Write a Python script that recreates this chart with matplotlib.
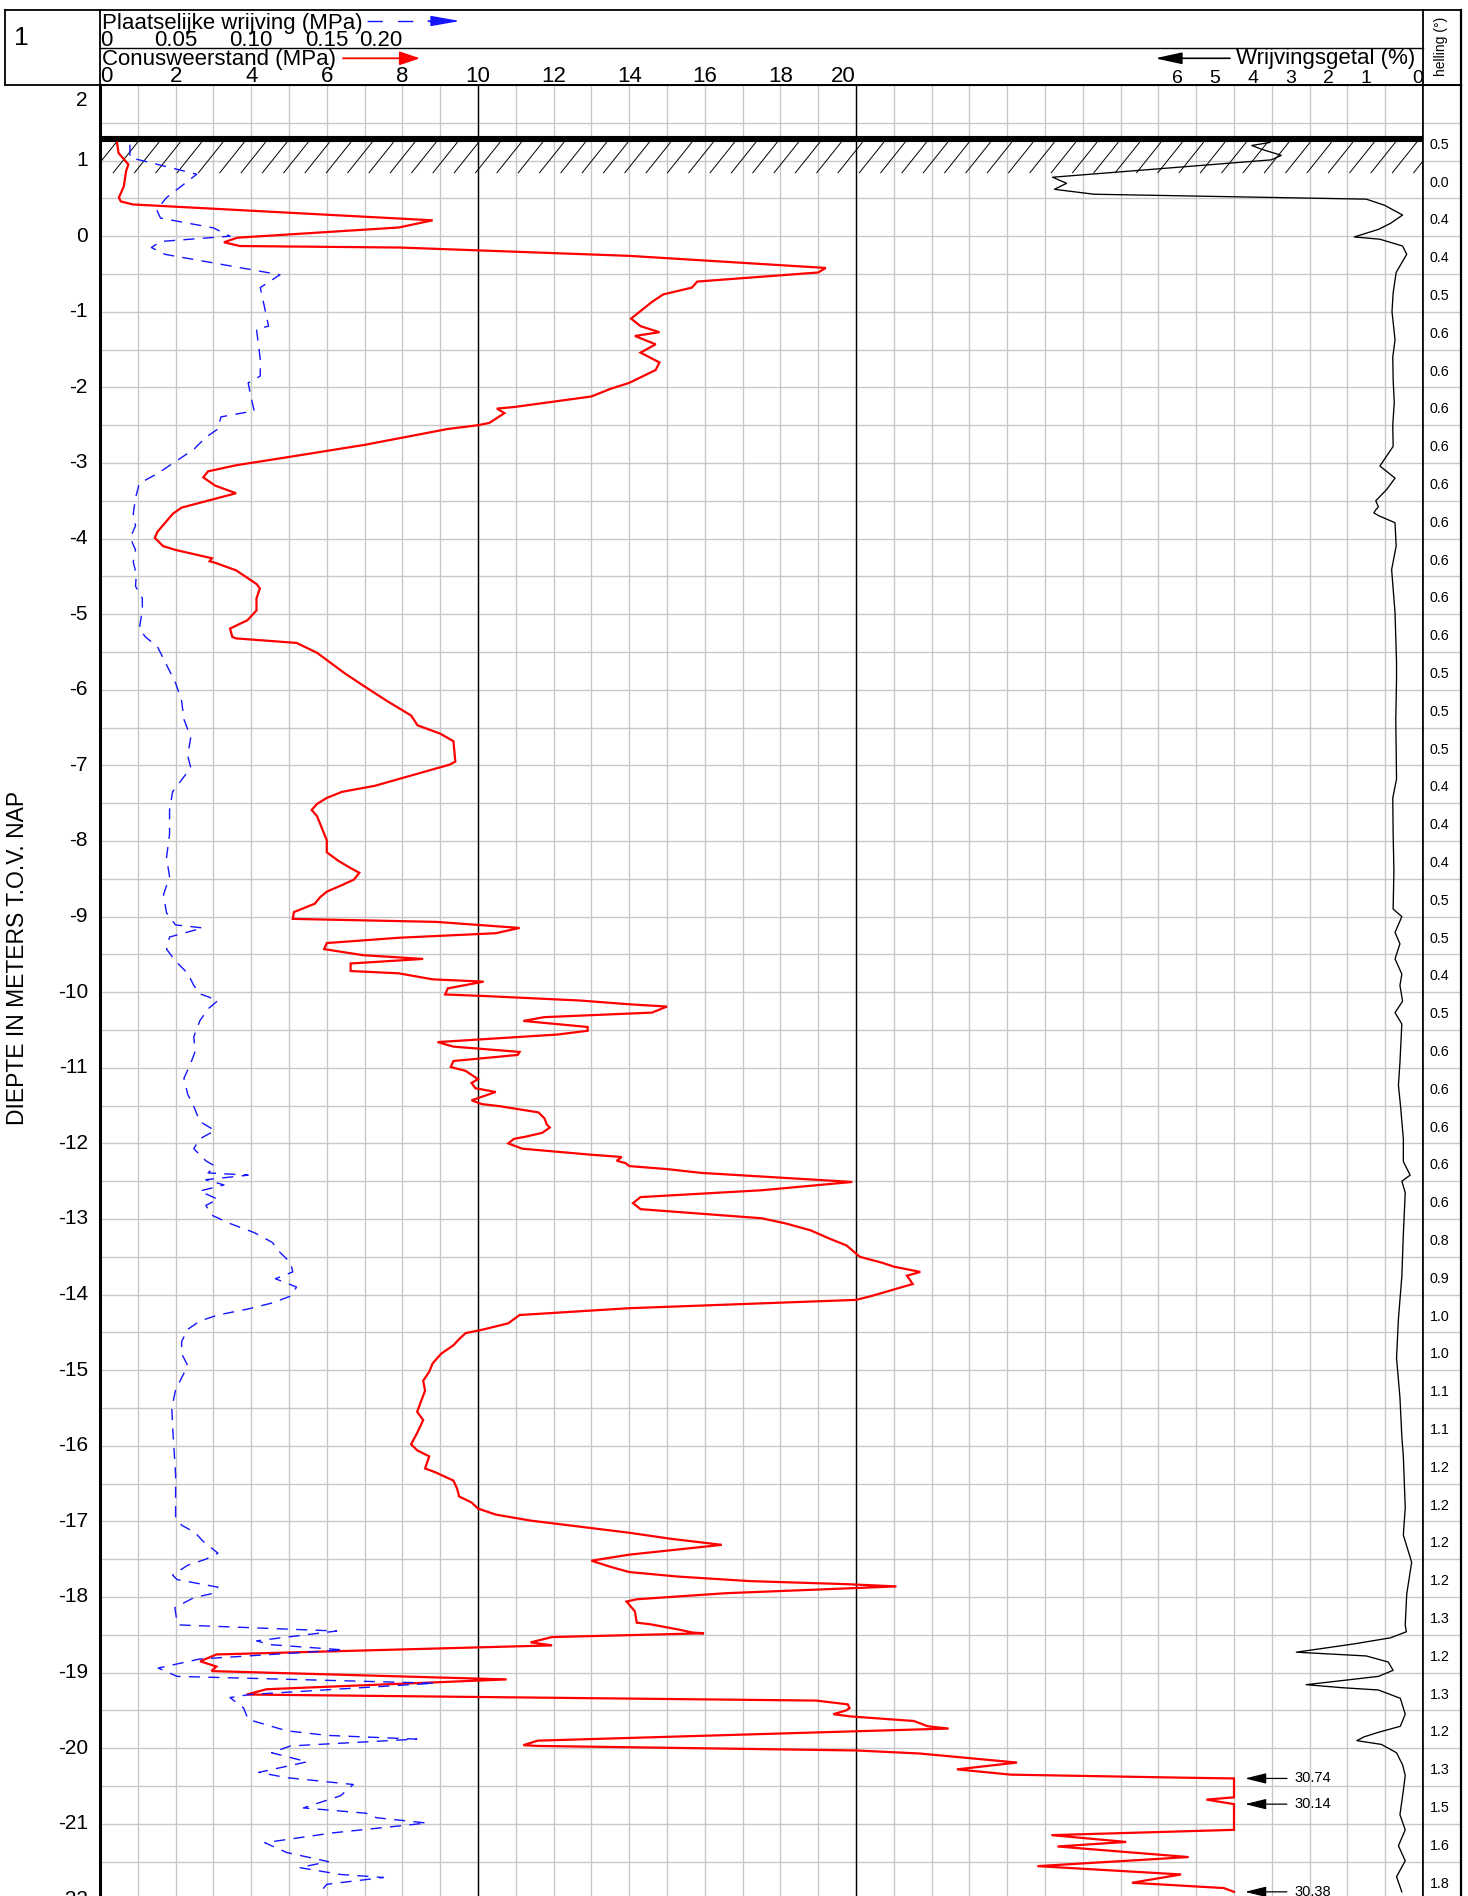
import numpy as np
import matplotlib
matplotlib.use("Agg")
import matplotlib.pyplot as plt
from matplotlib import transforms
from matplotlib.patches import ArrowStyle

plt.rcParams['font.family'] = ['Liberation Sans', 'DejaVu Sans']

# ---------------- sounding data ----------------
# cone resistance qc (MPa) versus depth (m t.o.v. NAP)
qc_depth = [1.24, 1.10, 0.95, 0.86, 0.66, 0.51, 0.46, 0.42, 0.21, 0.115, -0.02, -0.08, -0.13, -0.15,
            -0.26, -0.42, -0.48, -0.60, -0.68, -0.77, -0.87, -1.03, -1.09, -1.19, -1.27, -1.32, -1.43,
            -1.54, -1.67, -1.77, -1.94, -2.02, -2.12, -2.26, -2.28, -2.34, -2.47, -2.50, -2.55, -2.76,
            -2.92, -3.03, -3.11, -3.19, -3.30, -3.40, -3.59, -3.67, -3.91, -3.99, -4.10, -4.15, -4.26,
            -4.30, -4.32, -4.42, -4.60, -4.66, -4.79, -4.95, -5.08, -5.19, -5.30, -5.32, -5.38, -5.51,
            -5.78, -5.94, -6.15, -6.34, -6.47, -6.58, -6.68, -6.95, -6.99, -7.11, -7.27, -7.35, -7.43,
            -7.51, -7.59, -7.67, -7.99, -8.15, -8.26, -8.35, -8.42, -8.51, -8.59, -8.67, -8.74, -8.83,
            -8.94, -9.03, -9.07, -9.15, -9.22, -9.28, -9.35, -9.43, -9.51, -9.56, -9.62, -9.72, -9.75,
            -9.83, -9.86, -9.95, -10.03, -10.05, -10.11, -10.16, -10.19, -10.27, -10.33, -10.38, -10.46,
            -10.51, -10.56, -10.66, -10.72, -10.79, -10.83, -10.91, -10.99, -11.04, -11.15, -11.20,
            -11.27, -11.32, -11.43, -11.48, -11.51, -11.59, -11.67, -11.75, -11.79, -11.86, -11.91,
            -11.94, -12.00, -12.07, -12.15, -12.18, -12.23, -12.26, -12.30, -12.34, -12.39, -12.51,
            -12.62, -12.71, -12.79, -12.87, -12.93, -12.99, -13.06, -13.15, -13.26, -13.35, -13.50,
            -13.58, -13.63, -13.70, -13.75, -13.86, -14.02, -14.07, -14.18, -14.27, -14.38, -14.46,
            -14.51, -14.59, -14.67, -14.78, -14.91, -15.02, -15.14, -15.27, -15.43, -15.55, -15.66,
            -15.83, -15.98, -16.06, -16.14, -16.30, -16.35, -16.46, -16.57, -16.67, -16.75, -16.83,
            -16.91, -16.99, -17.07, -17.15, -17.23, -17.31, -17.44, -17.52, -17.60, -17.67, -17.73,
            -17.79, -17.83, -17.86, -17.95, -18.03, -18.06, -18.19, -18.34, -18.36, -18.43, -18.47,
            -18.48, -18.53, -18.60, -18.64, -18.76, -18.85, -18.92, -18.98, -19.09, -19.22, -19.29,
            -19.37, -19.42, -19.47, -19.50, -19.55, -19.58, -19.64, -19.71, -19.74, -19.90, -19.96,
            -19.97, -20.03, -20.07, -20.19, -20.28, -20.35, -20.39, -20.40, -20.55, -20.65, -20.68,
            -20.74, -20.90, -21.08, -21.15, -21.24, -21.30, -21.44, -21.56, -21.67, -21.78, -21.85,
            -21.90]
qc_mpa = [0.45, 0.49, 0.75, 0.69, 0.63, 0.50, 0.55, 0.87, 8.80, 7.90, 3.63, 3.28, 3.70, 7.94,
          14.0, 19.2, 19.0, 15.8, 15.66, 14.9, 14.6, 14.2, 14.05, 14.3, 14.8, 14.15, 14.7,
          14.3, 14.8, 14.7, 14.0, 13.5, 13.0, 10.95, 10.5, 10.7, 10.3, 10.0, 9.2, 7.0,
          5.0, 3.6, 2.86, 2.73, 3.05, 3.6, 2.16, 1.93, 1.52, 1.45, 1.67, 2.0, 2.96,
          2.90, 3.05, 3.6, 4.14, 4.23, 4.14, 4.14, 3.9, 3.44, 3.5, 3.6, 5.2, 5.74,
          6.47, 6.95, 7.6, 8.23, 8.4, 9.0, 9.35, 9.4, 9.25, 8.4, 7.27, 6.4, 6.0,
          5.74, 5.6, 5.74, 6.0, 6.0, 6.3, 6.6, 6.86, 6.72, 6.37, 6.0, 5.83, 5.68,
          5.13, 5.1, 8.9, 11.1, 10.47, 7.9, 6.0, 5.93, 6.95, 8.55, 6.63, 6.63, 7.9,
          8.8, 10.15, 9.2, 9.13, 10.15, 12.7, 14.0, 15.0, 14.6, 11.75, 11.2, 12.9,
          12.9, 12.1, 8.93, 9.35, 11.1, 11.05, 9.35, 9.28, 9.67, 10.0, 9.83,
          9.93, 10.47, 9.83, 10.1, 10.6, 11.6, 11.76, 11.82, 11.9, 11.7, 11.27,
          10.95, 10.8, 11.17, 13.0, 13.8, 13.67, 13.9, 14.0, 15.0, 15.9, 19.9,
          17.5, 14.3, 14.1, 14.3, 15.9, 17.5, 18.15, 18.8, 19.3, 19.75, 20.1,
          20.7, 21.0, 21.7, 21.35, 21.5, 20.4, 20.0, 14.0, 11.1, 10.8, 10.15,
          9.67, 9.5, 9.35, 9.03, 8.8, 8.71, 8.55, 8.6, 8.48, 8.39, 8.55,
          8.39, 8.23, 8.39, 8.71, 8.6, 8.87, 9.35, 9.45, 9.5, 9.83, 10.0,
          10.47, 11.4, 12.7, 14.0, 15.1, 16.45, 14.0, 13.0, 13.5, 14.0, 15.3,
          17.2, 19.75, 21.07, 16.55, 14.2, 13.93, 14.15, 14.2, 14.55, 15.3, 15.68,
          15.98, 11.96, 11.39, 11.96, 3.08, 2.65, 3.08, 2.95, 10.76, 4.41, 3.88,
          18.95, 19.78, 19.83, 19.74, 19.4, 19.86, 21.53, 21.9, 22.45, 11.58, 11.2,
          11.58, 20.0, 21.68, 24.26, 22.67, 24.1, 28.67, 30.74, 30.6, 30.3, 29.27,
          30.14, 30.1, 30.05, 25.17, 27.15, 25.33, 28.8, 24.8, 28.6, 27.3, 29.73,
          30.38]

# local friction fs (MPa) versus depth
fs_depth = [1.21, 1.04, 0.82, 0.51, 0.35, 0.24, 0.11, 0.00, -0.07, -0.15, -0.24, -0.51, -0.68,
            -1.19, -1.23, -1.63, -1.85, -1.94, -2.14, -2.31, -2.39, -2.55, -2.66, -2.82, -2.98,
            -3.14, -3.27, -3.46, -3.67, -3.83, -3.99, -4.15, -4.31, -4.47, -4.63, -4.79, -4.95,
            -5.19, -5.30, -5.43, -5.59, -5.75, -5.91, -6.15, -6.39, -6.63, -6.87, -7.03, -7.19,
            -7.35, -7.59, -7.91, -8.22, -8.47, -8.71, -8.95, -9.11, -9.15, -9.27, -9.43, -9.59,
            -9.75, -9.91, -10.02, -10.11, -10.22, -10.38, -10.59, -10.78, -10.94, -11.14, -11.35,
            -11.51, -11.71, -11.83, -11.94, -12.07, -12.23, -12.30, -12.39, -12.42, -12.48, -12.55,
            -12.63, -12.74, -12.82, -12.95, -13.06, -13.18, -13.31, -13.42, -13.58, -13.70, -13.79,
            -13.90, -14.02, -14.11, -14.19, -14.27, -14.35, -14.46, -14.62, -14.78, -14.94, -15.10,
            -15.26, -15.50, -15.74, -16.06, -16.38, -16.70, -16.94, -17.05, -17.15, -17.26, -17.42,
            -17.50, -17.58, -17.71, -17.77, -17.87, -17.95, -18.01, -18.14, -18.34, -18.37, -18.45,
            -18.58, -18.63, -18.70, -18.82, -18.94, -19.05, -19.14, -19.29, -19.33, -19.47, -19.62,
            -19.77, -19.83, -19.88, -19.97, -20.06, -20.18, -20.32, -20.39, -20.48, -20.63, -20.79,
            -20.86, -20.92, -20.99, -21.12, -21.25, -21.38, -21.50, -21.58, -21.67, -21.71, -21.80,
            -21.91]
fs_mpa = [0.0198, 0.0198, 0.064, 0.044, 0.0375, 0.040, 0.075, 0.086, 0.040, 0.034, 0.043, 0.119, 0.106,
          0.1115, 0.1035, 0.106, 0.106, 0.098, 0.100, 0.102, 0.080, 0.078, 0.070, 0.062, 0.050,
          0.038, 0.026, 0.0235, 0.022, 0.0235, 0.020, 0.0235, 0.022, 0.024, 0.0235, 0.028, 0.028,
          0.026, 0.030, 0.038, 0.042, 0.046, 0.050, 0.054, 0.0555, 0.060, 0.058, 0.060, 0.054,
          0.048, 0.046, 0.046, 0.044, 0.046, 0.042, 0.044, 0.050, 0.068, 0.046, 0.044, 0.050,
          0.058, 0.062, 0.066, 0.078, 0.0715, 0.066, 0.062, 0.063, 0.060, 0.0555, 0.058,
          0.062, 0.066, 0.076, 0.066, 0.062, 0.070, 0.076, 0.0715, 0.098, 0.070, 0.082,
          0.066, 0.078, 0.070, 0.074, 0.086, 0.102, 0.114, 0.118, 0.126, 0.1275, 0.116,
          0.130, 0.126, 0.114, 0.098, 0.078, 0.066, 0.058, 0.054, 0.054, 0.058, 0.054,
          0.050, 0.0475, 0.048, 0.049, 0.050, 0.050, 0.050, 0.054, 0.063, 0.068, 0.078,
          0.070, 0.058, 0.048, 0.051, 0.078, 0.075, 0.062, 0.0495, 0.051, 0.053, 0.1565,
          0.1035, 0.1125, 0.161, 0.066, 0.0385, 0.051, 0.2215, 0.099, 0.086, 0.095, 0.098,
          0.1235, 0.150, 0.2095, 0.126, 0.1135, 0.137, 0.105, 0.1235, 0.1675, 0.159, 0.1345,
          0.176, 0.183, 0.216, 0.154, 0.109, 0.1235, 0.151, 0.132, 0.159, 0.1875, 0.150,
          0.1455]

# friction ratio Rf (%) versus depth
rf_depth = [1.24, 1.20, 1.15, 1.07, 1.01, 0.78, 0.70, 0.62, 0.555, 0.49, 0.41, 0.28, 0.17, 0.09,
            -0.01, -0.04, -0.13, -0.24, -0.35, -0.48, -0.75, -1.00, -1.37, -1.60, -1.90, -2.20,
            -2.50, -2.78, -3.04, -3.20, -3.35, -3.50, -3.58, -3.62, -3.66, -3.70, -3.79, -4.10,
            -4.41, -4.98, -5.64, -5.86, -6.40, -7.18, -7.43, -7.89, -8.40, -8.90, -9.00, -9.21,
            -9.36, -9.56, -9.76, -9.91, -10.12, -10.27, -10.42, -10.93, -11.23, -11.53, -11.94,
            -12.24, -12.42, -12.50, -12.65, -13.20, -13.76, -14.32, -14.84, -15.36, -15.88,
            -16.14, -16.82, -17.18, -17.54, -17.96, -18.37, -18.46, -18.54, -18.62, -18.73,
            -18.78, -18.86, -18.97, -19.05, -19.16, -19.20, -19.23, -19.34, -19.55, -19.71,
            -19.79, -19.85, -19.90, -19.95, -20.06, -20.22, -20.36, -20.56, -20.88, -21.08,
            -21.29, -21.49, -21.70, -21.90]
rf_pct = [4.05, 4.53, 4.27, 3.75, 4.01, 9.80, 9.43, 9.75, 8.70, 1.50, 1.02, 0.54, 0.86, 1.18,
          1.82, 1.14, 0.54, 0.43, 0.56, 0.71, 0.79, 0.82, 0.74, 0.80, 0.79, 0.76,
          0.80, 0.79, 1.14, 0.74, 0.96, 1.25, 1.18, 1.25, 1.30, 1.16, 0.74, 0.71,
          0.83, 0.74, 0.70, 0.70, 0.72, 0.70, 0.80, 0.79, 0.77, 0.79, 0.56, 0.74,
          0.61, 0.74, 0.56, 0.61, 0.54, 0.74, 0.56, 0.61, 0.65, 0.59, 0.52,
          0.52, 0.34, 0.56, 0.47, 0.52, 0.56, 0.65, 0.70, 0.61, 0.56,
          0.52, 0.47, 0.52, 0.30, 0.43, 0.47, 0.44, 0.86, 1.82, 3.35,
          1.50, 0.92, 0.79, 1.18, 3.09, 2.13, 1.18, 0.60, 0.47, 0.60,
          1.18, 1.56, 1.75, 1.10, 0.70, 0.54, 0.47, 0.52, 0.61, 0.47,
          0.65, 0.47, 0.70, 0.56]

# inclination (degrees) per 0.5 m interval, from the top interval downwards
helling_deg = [0.5, 0.0, 0.4, 0.4, 0.5, 0.6, 0.6, 0.6, 0.6, 0.6, 0.6, 0.6, 0.6, 0.6,
               0.5, 0.5, 0.5, 0.4, 0.4, 0.4, 0.5, 0.5, 0.4, 0.5, 0.6, 0.6, 0.6, 0.6, 0.6,
               0.8, 0.9, 1.0, 1.0, 1.1, 1.1, 1.2, 1.2, 1.2, 1.2, 1.3, 1.2, 1.3, 1.2, 1.3,
               1.5, 1.6, 1.8]

surface_level = 1.29
qc_ticks = [0, 2, 4, 6, 8, 10, 12, 14, 16, 18, 20]
fs_ticks = [0.0, 0.05, 0.10, 0.15, 0.20]
fs_tick_labels = ['0', '0.05', '0.10', '0.15', '0.20']
rf_ticks = [6, 5, 4, 3, 2, 1, 0]
depth_ticks = list(range(2, -23, -1))

QC_SCALE_MAX = 35.0      # MPa across the plot width
QC_CLIP = 30.0           # values beyond this are drawn at the edge and annotated
FS_SCALE_MAX = QC_SCALE_MAX * 0.025
RF_SCALE_MAX = QC_SCALE_MAX
TOP_DEPTH, BOTTOM_DEPTH = 2.0, -24.0

# ---------------- layout (pixels) ----------------
W, H, DPI = 1468, 1896, 100
PLOT_L, PLOT_R, PLOT_T = 100, 1423, 85
COL_R = 1461
PX_PER_M = 75.6
PLOT_B = PLOT_T + (TOP_DEPTH - BOTTOM_DEPTH) * PX_PER_M


def rect(x0, y0, x1, y1):
    return [x0 / W, 1 - y1 / H, (x1 - x0) / W, (y1 - y0) / H]


fig = plt.figure(figsize=(W / DPI, H / DPI), dpi=DPI)
fig.patch.set_facecolor('white')

GRID = '#c8c8c8'

# main axes: cone resistance scale + grid
ax = fig.add_axes(rect(PLOT_L, PLOT_T, PLOT_R, PLOT_B))
ax.set_xlim(0, QC_SCALE_MAX)
ax.set_ylim(BOTTOM_DEPTH, TOP_DEPTH)
ax.set_xticks(np.arange(0, QC_SCALE_MAX + 0.1, 1))
ax.set_yticks(np.arange(BOTTOM_DEPTH, TOP_DEPTH + 0.01, 0.5))
ax.tick_params(length=0, labelleft=False, labelbottom=False)
ax.grid(True, color=GRID, lw=1.0, zorder=0)
ax.set_axisbelow(True)
ax.spines['left'].set_linewidth(2.2)
ax.spines['right'].set_linewidth(1.2)
ax.spines['top'].set_linewidth(1.2)
ax.spines['bottom'].set_visible(False)
for v in (10, 20):
    ax.axvline(v, color='black', lw=1.0, zorder=1)

# ground surface with hatching below it
ax.axhline(surface_level, color='black', lw=4.4, zorder=3)
hatch_top = surface_level - 0.05
hatch_bot = surface_level - 0.45
for x0 in np.arange(0.35 - 0.564 * 2, QC_SCALE_MAX + 1, 0.564):
    ax.plot([x0, x0 + 0.64], [hatch_bot, hatch_top], color='black', lw=0.7, zorder=2)

# cone resistance, clipped at the plot limit
qc = np.asarray(qc_mpa)
qd = np.asarray(qc_depth)
ax.plot(np.minimum(qc, QC_CLIP), qd, color='red', lw=1.6, zorder=4,
        solid_joinstyle='miter')

# annotate each run of values beyond the clip limit with its maximum
over = qc > QC_CLIP
i = 0
while i < len(qc):
    if over[i]:
        j = i
        while j + 1 < len(qc) and over[j + 1]:
            j += 1
        ax.annotate('', xy=(QC_CLIP + 0.29, qd[i]), xytext=(QC_CLIP + 1.4, qd[i]),
                    arrowprops=dict(arrowstyle=ArrowStyle('-|>', head_length=1.3, head_width=0.32),
                                    mutation_scale=10, color='black', lw=0.9,
                                    shrinkA=0, shrinkB=0), annotation_clip=False)
        ax.text(QC_CLIP + 1.6, qd[i], f'{qc[i:j + 1].max():.2f}', fontsize=10.5,
                va='center', ha='left')
        i = j + 1
    else:
        i += 1

# depth labels (the top one is kept clear of the header)
for d in depth_ticks:
    ax.text(-0.32, min(d, TOP_DEPTH - 0.21), str(d), ha='right', va='center',
            fontsize=15, clip_on=False)

# local friction on its own scale
ax_f = fig.add_axes(rect(PLOT_L, PLOT_T, PLOT_R, PLOT_B), sharey=ax)
ax_f.set_xlim(0, FS_SCALE_MAX)
ax_f.axis('off')
ax_f.patch.set_visible(False)
ax_f.plot(fs_mpa, fs_depth, color='#1515ff', lw=1.0, dashes=(8, 6), zorder=5)

# friction ratio, increasing to the left
ax_r = fig.add_axes(rect(PLOT_L, PLOT_T, PLOT_R, PLOT_B), sharey=ax)
ax_r.set_xlim(RF_SCALE_MAX, 0)
ax_r.axis('off')
ax_r.patch.set_visible(False)
ax_r.plot(rf_pct, rf_depth, color='black', lw=0.95, zorder=5)

# inclination column
ax_h = fig.add_axes(rect(PLOT_R, PLOT_T, COL_R, PLOT_B), sharey=ax)
ax_h.set_xlim(0, 1)
ax_h.set_xticks([])
ax_h.tick_params(length=0, labelleft=False)
ax_h.yaxis.grid(True, color=GRID, lw=1.0)
ax_h.set_axisbelow(True)
ax_h.spines['left'].set_linewidth(1.2)
ax_h.spines['right'].set_linewidth(1.6)
ax_h.spines['top'].set_linewidth(1.2)
ax_h.spines['bottom'].set_visible(False)
for k, val in enumerate(helling_deg):
    ax_h.text(0.17, 1.25 - 0.5 * k - 0.04, f'{val:.1f}', fontsize=10.3, ha='left', va='center')

# header overlay in pixel coordinates
hdr = fig.add_axes([0, 0, 1, 1], zorder=10)
hdr.set_xlim(0, W)
hdr.set_ylim(H, 0)
hdr.axis('off')
hdr.patch.set_visible(False)

box_lw = 1.3
hdr.plot([5, COL_R], [9.5, 9.5], color='black', lw=box_lw)
hdr.plot([5, COL_R], [PLOT_T, PLOT_T], color='black', lw=box_lw)
hdr.plot([5, 5], [9.5, PLOT_T], color='black', lw=box_lw)
hdr.plot([PLOT_L, PLOT_L], [9.5, PLOT_T], color='black', lw=box_lw)
hdr.plot([PLOT_R, PLOT_R], [9.5, PLOT_T], color='black', lw=box_lw)
hdr.plot([COL_R, COL_R], [9.5, PLOT_T], color='black', lw=1.6)
hdr.plot([PLOT_L, PLOT_R], [48, 48], color='black', lw=1.0)

hdr.text(21, 38, '1', fontsize=19, ha='center', va='center')
hdr.text(1441, 46, 'helling (°)', fontsize=10, rotation=90, ha='center', va='center')
hdr.text(18, 958, 'DIEPTE IN METERS T.O.V. NAP', fontsize=16.5, rotation=90,
         ha='center', va='center')

HF = 16.0
hdr.text(102, 28.5, 'Plaatselijke wrijving (MPa)', fontsize=HF, va='baseline')
hdr.text(102, 65, 'Conusweerstand (MPa)', fontsize=HF, va='baseline')
hdr.text(1415, 64, 'Wrijvingsgetal (%)', fontsize=HF, va='baseline', ha='right')

tq = transforms.blended_transform_factory(ax.transData, hdr.transData)
tf = transforms.blended_transform_factory(ax_f.transData, hdr.transData)
tr = transforms.blended_transform_factory(ax_r.transData, hdr.transData)

for v in qc_ticks:
    ha = 'left' if v == qc_ticks[0] else ('right' if v == qc_ticks[-1] else 'center')
    hdr.text(v, 82, str(v), transform=tq, fontsize=HF, ha=ha, va='baseline')
for v, s in zip(fs_ticks, fs_tick_labels):
    ha = 'left' if v == fs_ticks[0] else ('right' if v == fs_ticks[-1] else 'center')
    hdr.text(v, 46, s, transform=tf, fontsize=HF, ha=ha, va='baseline')
for v in rf_ticks:
    if v == 0:
        hdr.text(v, 83, str(v), transform=tr, fontsize=14, ha='right', va='baseline')
    else:
        hdr.text(v + 0.5, 83, str(v), transform=tr, fontsize=14, ha='center', va='baseline')

# header arrows
hdr.plot([367, 432], [21, 21], color='#1515ff', lw=1.0, dashes=(11, 11))
hdr.annotate('', xy=(460, 21), xytext=(428, 21),
             arrowprops=dict(arrowstyle=ArrowStyle('-|>', head_length=1.8, head_width=0.32),
                             mutation_scale=10, color='#1515ff', lw=1.0, shrinkA=0, shrinkB=0))
hdr.annotate('', xy=(420, 58.3), xytext=(343, 58.3),
             arrowprops=dict(arrowstyle=ArrowStyle('-|>', head_length=1.25, head_width=0.42),
                             mutation_scale=10, color='red', lw=1.3, shrinkA=0, shrinkB=0))
hdr.annotate('', xy=(1155, 58.3), xytext=(1230, 58.3),
             arrowprops=dict(arrowstyle=ArrowStyle('-|>', head_length=1.65, head_width=0.36),
                             mutation_scale=10, color='black', lw=1.2, shrinkA=0, shrinkB=0))

fig.savefig('out.png', dpi=DPI, facecolor='white')
